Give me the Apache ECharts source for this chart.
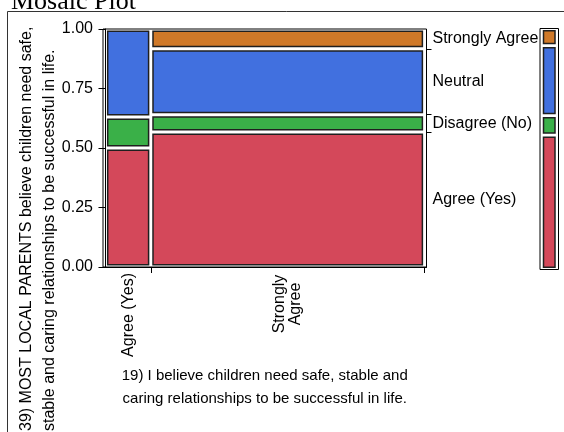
<!DOCTYPE html>
<html>
<head>
<meta charset="utf-8">
<script src="https://cdn.jsdelivr.net/npm/echarts@6/dist/echarts.min.js"></script>
<style>html,body{margin:0;padding:0;background:#fff;}#c{width:564px;height:432px;}</style>
</head>
<body>
<div id="c"></div>
<script>
// ---- data ----
const chartTitle = 'Mosaic Plot';
const xCategories = ['Agree (Yes)', 'Strongly\nAgree'];
const xShares = [0.142, 0.858];              // column widths (share of respondents)
const yLevels = ['Agree (Yes)', 'Disagree (No)', 'Neutral', 'Strongly Agree'];
const agreeYes      = [0.500, 0.567];
const disagreeNo    = [0.130, 0.073];
const neutral       = [0.370, 0.277];
const stronglyAgree = [0.000, 0.083];
const yTickLabels = ['0.00', '0.25', '0.50', '0.75', '1.00'];
const xTitle = '19) I believe children need safe, stable and\ncaring relationships to be successful in life.';
const yTitle = '39) MOST LOCAL PARENTS believe children need safe,\nstable and caring relationships to be successful in life.';
const levelColors = ['#D4485A', '#3AB048', '#4170DF', '#CF7929'];

// ---- derived tables ----
const propsByLevel = [agreeYes, disagreeNo, neutral, stronglyAgree];
const marginal = propsByLevel.map(arr => arr.reduce((s, v, i) => s + v * xShares[i], 0));
const marginalByLevel = marginal.map(v => [v]);

function cumBefore(arr, idx) { let s = 0; for (let i = 0; i < idx; i++) s += arr[i]; return s; }
function levelBottom(props, col, lev) { let s = 0; for (let l = 0; l < lev; l++) s += props[l][col]; return s; }

const lastCol = xShares.length - 1;
const labelCenters = yLevels.map((_, l) => levelBottom(propsByLevel, lastCol, l) + propsByLevel[l][lastCol] / 2);
const labelBounds = [1, 2, 3].map(l => levelBottom(propsByLevel, lastCol, l));
const xCenters = xShares.map((s, i) => cumBefore(xShares, i) + s / 2);
const xBounds = xShares.map((s, i) => cumBefore(xShares, i) + s);

function makeRender(shares, props, insetX, insetY) {
  return function (params, api) {
    const c = api.value(0), l = api.value(1);
    const p = props[l][c];
    if (!(p > 0)) return null;
    const x0 = cumBefore(shares, c), x1 = x0 + shares[c];
    const y0 = levelBottom(props, c, l), y1 = y0 + p;
    const a = api.coord([x0, y0]), b = api.coord([x1, y1]);
    return {
      type: 'rect',
      shape: { x: a[0] + insetX, y: b[1] + insetY, width: b[0] - a[0] - 2 * insetX, height: a[1] - b[1] - 2 * insetY },
      style: { fill: levelColors[l], stroke: '#1f1f1f', lineWidth: 1.5 }
    };
  };
}

const mainData = [];
xShares.forEach((_, c) => yLevels.forEach((_, l) => mainData.push([c, l])));
const margData = yLevels.map((_, l) => [0, l]);

function nearestIdx(arr, v) { let bi = 0; arr.forEach((a, i) => { if (Math.abs(a - v) < Math.abs(arr[bi] - v)) bi = i; }); return bi; }

const chart = echarts.init(document.getElementById('c'), null, { renderer: 'canvas' });
chart.setOption({
  animation: false,
  backgroundColor: '#fff',
  textStyle: { fontFamily: 'Liberation Sans, Arial, sans-serif' },
  title: {
    text: chartTitle, left: 6, top: -16,
    textStyle: { fontFamily: 'Liberation Serif, Times New Roman, serif', fontSize: 26, fontWeight: 'normal', color: '#000' }
  },
  graphic: [
    { type: 'rect', z: -10, shape: { x: 7.5, y: 11.5, width: 600, height: 500 }, style: { fill: 'none', stroke: '#333', lineWidth: 1 } },
    { type: 'text', x: 38.5, y: 431, rotation: Math.PI / 2,
      style: { text: yTitle, fontSize: 16, lineHeight: 23, fontFamily: 'Liberation Sans, Arial, sans-serif', fill: '#000', align: 'left', verticalAlign: 'middle' } }
  ],
  grid: [
    { left: 103, top: 29, width: 323.5, height: 238, show: true, borderColor: '#000', borderWidth: 1, backgroundColor: 'transparent' },
    { left: 540, top: 28.5, width: 18.5, height: 241, show: true, borderColor: '#000', borderWidth: 1, backgroundColor: 'transparent' }
  ],
  xAxis: [
    {
      type: 'value', gridIndex: 0, min: -0.0078, max: 1.006,
      axisLine: { show: true, lineStyle: { color: '#000' } },
      axisTick: { show: true, customValues: xBounds, length: 6, lineStyle: { color: '#000' } },
      axisLabel: {
        show: true, customValues: xCenters, rotate: 90, margin: 6, fontSize: 16, color: '#000',
        formatter: v => {
          const name = xCategories[nearestIdx(xCenters, v)];
          return name.indexOf('\n') >= 0 ? name.split('\n').map(s => '{c|' + s + '}').join('\n') : name;
        },
        rich: { c: { width: 62, align: 'center', fontSize: 16, color: '#000' } }
      },
      splitLine: { show: false },
      name: xTitle, nameLocation: 'middle', nameGap: 96.5,
      nameTextStyle: { fontSize: 15, lineHeight: 23, color: '#000' }
    },
    { type: 'value', gridIndex: 1, min: 0, max: 1, show: false }
  ],
  yAxis: [
    {
      type: 'value', gridIndex: 0, min: 0, max: 1, interval: 0.25,
      axisLine: { show: true, lineStyle: { color: '#000' } },
      axisTick: { show: true, length: 7, lineStyle: { color: '#000' } },
      axisLabel: { margin: 10, fontSize: 16, color: '#000', formatter: v => yTickLabels[Math.round(v / 0.25)] },
      splitLine: { show: false }
    },
    {
      type: 'value', gridIndex: 0, position: 'right', min: 0, max: 1,
      axisLine: { show: false },
      axisTick: { show: true, customValues: labelBounds, length: 5, lineStyle: { color: '#000' } },
      axisLabel: {
        show: true, customValues: labelCenters, margin: 6, fontSize: 16, color: '#000',
        formatter: v => yLevels[nearestIdx(labelCenters, v)]
      },
      splitLine: { show: false }
    },
    { type: 'value', gridIndex: 1, min: 0, max: 1, show: false }
  ],
  series: [
    { type: 'custom', xAxisIndex: 0, yAxisIndex: 0, renderItem: makeRender(xShares, propsByLevel, 2.2, 2.2), data: mainData, encode: { x: 0, y: 1 } },
    { type: 'custom', xAxisIndex: 1, yAxisIndex: 2, renderItem: makeRender([1], marginalByLevel, 3.5, 2.2), data: margData, encode: { x: 0, y: 1 } }
  ]
});
</script>
</body>
</html>
